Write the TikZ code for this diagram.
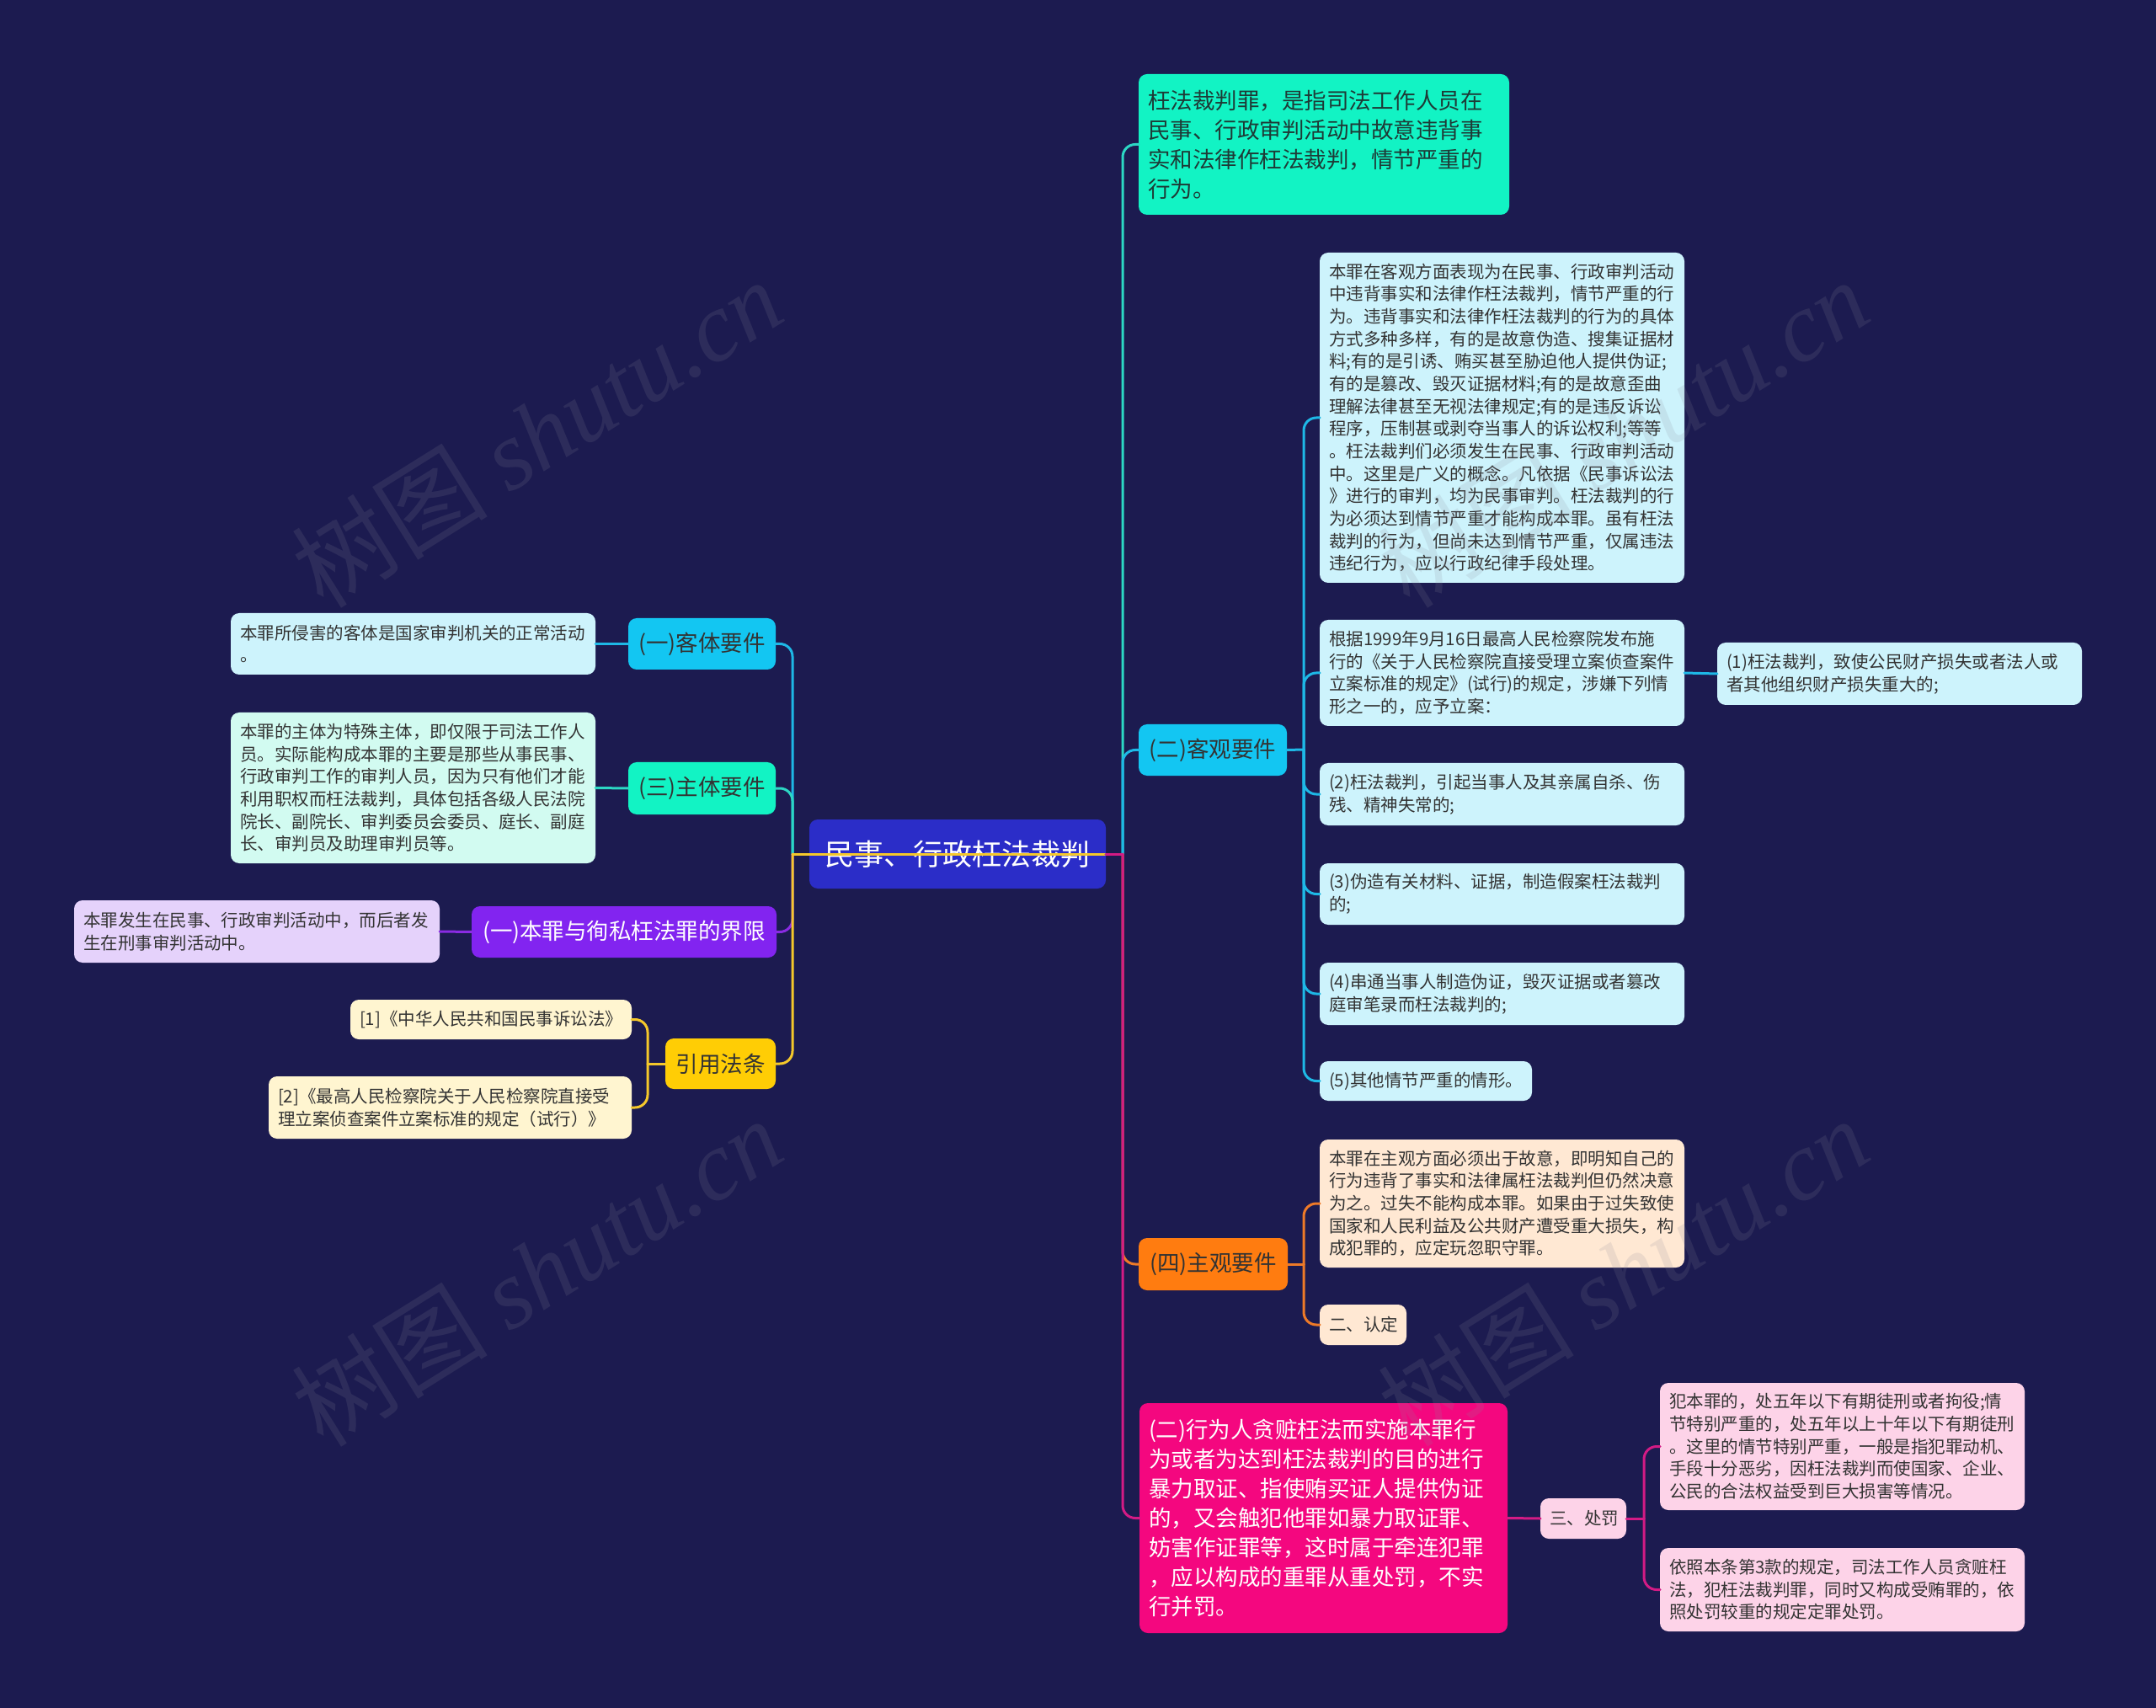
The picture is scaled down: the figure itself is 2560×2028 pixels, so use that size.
\documentclass[tikz,border=0pt]{standalone}
\usepackage{fontspec}
\setmainfont{Noto Sans CJK SC}
\newfontfamily\wmfont{Liberation Serif}
\definecolor{bg}{HTML}{1C1B50}
\definecolor{rootc}{HTML}{2B2DC8}
\definecolor{tealc}{HTML}{12F3C4}
\definecolor{cyanc}{HTML}{13C6F2}
\definecolor{purc}{HTML}{8224F0}
\definecolor{yelc}{HTML}{FFCD05}
\definecolor{orac}{HTML}{FF7C10}
\definecolor{pinc}{HTML}{F4077F}
\definecolor{lcyan}{HTML}{CDF3FC}
\definecolor{lteal}{HTML}{D2FBF1}
\definecolor{lpur}{HTML}{E5D2FB}
\definecolor{lyel}{HTML}{FFF5D0}
\definecolor{lora}{HTML}{FFE8D3}
\definecolor{lpin}{HTML}{FDD3E8}
\definecolor{lcy}{HTML}{1EB8E6}
\definecolor{lte}{HTML}{2CD7C4}
\definecolor{lpu}{HTML}{8A2BE2}
\definecolor{lye}{HTML}{F5C82B}
\definecolor{lor}{HTML}{EE7A28}
\definecolor{lpi}{HTML}{D31B85}
\definecolor{tdark}{HTML}{333333}
\definecolor{tgreen}{HTML}{1E3A36}
\definecolor{wmc}{HTML}{8A8A9A}
\newcommand{\fsm}{\fontsize{6.15pt}{8pt}\selectfont}
\newcommand{\fbg}{\fontsize{7.95pt}{10.5pt}\selectfont}
\newcommand{\bx}[7]{%
  \pgfmathsetmacro\bxw{(#4-#2)*0.3}%
  \pgfmathsetmacro\bxh{(#5-#3)*0.3}%
  \pgfmathsetmacro\bxt{(#4-#2-22)*0.3}%
  \node[#6, minimum width=\bxw pt, minimum height=\bxh pt] (#1) at ({(#2+#4)/2},{(#3+#5)/2}) {#7};}
\tikzset{
  base/.style={rounded corners=3pt, inner sep=0pt, outer sep=0pt},
  smalltxt/.style={base, text width=\bxt pt, align=left, font=\fsm, text=tdark},
  bigtxt/.style={base, text width=\bxt pt, align=left, font=\fbg},
  lab/.style={base, align=center, font=\fbg},
  conn/.style={line width=0.9pt, line cap=round},
  rconn/.style={line width=0.9pt, line cap=round, rounded corners=4.5pt},
  wm/.style={text=wmc, text opacity=0.16, rotate=32, font=\fontsize{35pt}{40pt}\selectfont}
}
\begin{document}
\begin{tikzpicture}[x=0.3pt, y=-0.3pt]
\fill[bg] (0,0) rectangle (2560,2028);
\useasboundingbox (0,0) rectangle (2560,2028);

% root
\bx{root}{961}{973}{1313}{1055}{base, fill=rootc, text=white, font=\fontsize{10.5pt}{12pt}\selectfont}{民事、行政枉法裁判}

% right side
\bx{T0}{1352}{88}{1792}{255}{bigtxt, fill=tealc, text=tgreen}{枉法裁判罪，是指司法工作人员在\\民事、行政审判活动中故意违背事\\实和法律作枉法裁判，情节严重的\\行为。}
\bx{K}{1352}{860}{1528}{921}{lab, fill=cyanc, text=tdark}{(二)客观要件}
\bx{K1}{1567}{300}{2000}{692}{smalltxt, fill=lcyan}{本罪在客观方面表现为在民事、行政审判活动\\中违背事实和法律作枉法裁判，情节严重的行\\为。违背事实和法律作枉法裁判的行为的具体\\方式多种多样，有的是故意伪造、搜集证据材\\料;有的是引诱、贿买甚至胁迫他人提供伪证;\\有的是篡改、毁灭证据材料;有的是故意歪曲\\理解法律甚至无视法律规定;有的是违反诉讼\\程序，压制甚或剥夺当事人的诉讼权利;等等\\。枉法裁判们必须发生在民事、行政审判活动\\中。这里是广义的概念。凡依据《民事诉讼法\\》进行的审判，均为民事审判。枉法裁判的行\\为必须达到情节严重才能构成本罪。虽有枉法\\裁判的行为，但尚未达到情节严重，仅属违法\\违纪行为，应以行政纪律手段处理。}
\bx{K2}{1567}{736}{2000}{862}{smalltxt, fill=lcyan}{根据1999年9月16日最高人民检察院发布施\\行的《关于人民检察院直接受理立案侦查案件\\立案标准的规定》(试行)的规定，涉嫌下列情\\形之一的，应予立案：}
\bx{K2a}{2039}{763}{2472}{837}{smalltxt, fill=lcyan}{(1)枉法裁判，致使公民财产损失或者法人或\\者其他组织财产损失重大的;}
\bx{K3}{1567}{906}{2000}{980}{smalltxt, fill=lcyan}{(2)枉法裁判，引起当事人及其亲属自杀、伤\\残、精神失常的;}
\bx{K4}{1567}{1025}{2000}{1098}{smalltxt, fill=lcyan}{(3)伪造有关材料、证据，制造假案枉法裁判\\的;}
\bx{K5}{1567}{1143}{2000}{1217}{smalltxt, fill=lcyan}{(4)串通当事人制造伪证，毁灭证据或者篡改\\庭审笔录而枉法裁判的;}
\bx{K6}{1567}{1260}{1819}{1307}{smalltxt, fill=lcyan}{(5)其他情节严重的情形。}

\bx{S}{1352}{1470}{1529}{1532}{lab, fill=orac, text=tdark}{(四)主观要件}
\bx{S1}{1567}{1353}{2000}{1505}{smalltxt, fill=lora}{本罪在主观方面必须出于故意，即明知自己的\\行为违背了事实和法律属枉法裁判但仍然决意\\为之。过失不能构成本罪。如果由于过失致使\\国家和人民利益及公共财产遭受重大损失，构\\成犯罪的，应定玩忽职守罪。}
\bx{S2}{1567}{1549}{1670}{1597}{smalltxt, fill=lora}{二、认定}

\bx{P}{1353}{1666}{1790}{1939}{bigtxt, fill=pinc, text=white}{(二)行为人贪赃枉法而实施本罪行\\为或者为达到枉法裁判的目的进行\\暴力取证、指使贿买证人提供伪证\\的，又会触犯他罪如暴力取证罪、\\妨害作证罪等，这时属于牵连犯罪\\，应以构成的重罪从重处罚，不实\\行并罚。}
\bx{P1}{1829}{1779}{1931}{1827}{smalltxt, fill=lpin}{三、处罚}
\bx{P2}{1971}{1642}{2404}{1793}{smalltxt, fill=lpin}{犯本罪的，处五年以下有期徒刑或者拘役;情\\节特别严重的，处五年以上十年以下有期徒刑\\。这里的情节特别严重，一般是指犯罪动机、\\手段十分恶劣，因枉法裁判而使国家、企业、\\公民的合法权益受到巨大损害等情况。}
\bx{P3}{1971}{1838}{2404}{1937}{smalltxt, fill=lpin}{依照本条第3款的规定，司法工作人员贪赃枉\\法，犯枉法裁判罪，同时又构成受贿罪的，依\\照处罚较重的规定定罪处罚。}

% left side
\bx{L1}{746}{734}{921}{795}{lab, fill=cyanc, text=tdark}{(一)客体要件}
\bx{L1a}{274}{728}{707}{801}{smalltxt, fill=lcyan}{本罪所侵害的客体是国家审判机关的正常活动\\。}
\bx{L2}{746}{905}{921}{967}{lab, fill=tealc, text=tdark}{(三)主体要件}
\bx{L2a}{274}{846}{707}{1025}{smalltxt, fill=lteal}{本罪的主体为特殊主体，即仅限于司法工作人\\员。实际能构成本罪的主要是那些从事民事、\\行政审判工作的审判人员，因为只有他们才能\\利用职权而枉法裁判，具体包括各级人民法院\\院长、副院长、审判委员会委员、庭长、副庭\\长、审判员及助理审判员等。}
\bx{L3}{560}{1076}{922}{1137}{lab, fill=purc, text=white}{(一)本罪与徇私枉法罪的界限}
\bx{L3a}{88}{1069}{522}{1143}{smalltxt, fill=lpur}{本罪发生在民事、行政审判活动中，而后者发\\生在刑事审判活动中。}
\bx{L4}{790}{1233}{921}{1293}{lab, fill=yelc, text=tdark}{引用法条}
\bx{L4a}{416}{1187}{750}{1234}{smalltxt, fill=lyel}{[1]《中华人民共和国民事诉讼法》}
\bx{L4b}{319}{1278}{750}{1352}{smalltxt, fill=lyel}{[2]《最高人民检察院关于人民检察院直接受\\理立案侦查案件立案标准的规定（试行）》}

% trunk coordinates
\coordinate (LT) at (941,1014);
\coordinate (RT) at (1333,1014);
\coordinate (KT) at (1548,890);
\coordinate (ST) at (1548,1501);
\coordinate (PT) at (1952,1803);
\coordinate (YT) at (769,1263);

% left connectors
\draw[conn, lcy] (root.east) -- (LT);
\draw[rconn, lcy] (LT) -- (LT |- L1) -- (L1.east);
\draw[conn, lte] (root.east) -- (LT);
\draw[rconn, lte] (LT) -- (LT |- L2) -- (L2.east);
\draw[conn, lpu] (root.east) -- (LT);
\draw[rconn, lpu] (LT) -- (LT |- L3) -- (L3.east);
\draw[conn, lye] (root.east) -- (LT);
\draw[rconn, lye] (LT) -- (LT |- L4) -- (L4.east);

\draw[conn, lcy] (L1.west) -- (L1a.east);
\draw[conn, lte] (L2.west) -- (L2a.east);
\draw[conn, lpu] (L3.west) -- (L3a.east);
\draw[conn, lye] (L4.west) -- (YT);
\draw[rconn, lye] (YT) -- (YT |- L4a) -- (L4a.east);
\draw[rconn, lye] (YT) -- (YT |- L4b) -- (L4b.east);

% right connectors
\draw[conn, lte] (root.east) -- (RT);
\draw[rconn, lte] (RT) -- (RT |- T0) -- (T0.west);
\draw[conn, lcy] (root.east) -- (RT);
\draw[rconn, lcy] (RT) -- (RT |- K) -- (K.west);
\draw[conn, lor] (root.east) -- (RT);
\draw[rconn, lor] (RT) -- (RT |- S) -- (S.west);
\draw[conn, lpi] (root.east) -- (RT);
\draw[rconn, lpi] (RT) -- (RT |- P) -- (P.west);

\draw[conn, lcy] (K.east) -- (KT);
\draw[rconn, lcy] (KT) -- (KT |- K1) -- (K1.west);
\draw[rconn, lcy] (KT) -- (KT |- K2) -- (K2.west);
\draw[rconn, lcy] (KT) -- (KT |- K3) -- (K3.west);
\draw[rconn, lcy] (KT) -- (KT |- K4) -- (K4.west);
\draw[rconn, lcy] (KT) -- (KT |- K5) -- (K5.west);
\draw[rconn, lcy] (KT) -- (KT |- K6) -- (K6.west);
\draw[conn, lcy] (K2.east) -- (K2a.west);

\draw[conn, lor] (S.east) -- (ST);
\draw[rconn, lor] (ST) -- (ST |- S1) -- (S1.west);
\draw[rconn, lor] (ST) -- (ST |- S2) -- (S2.west);

\draw[conn, lpi] (P.east) -- (P1.west);
\draw[conn, lpi] (P1.east) -- (PT);
\draw[rconn, lpi] (PT) -- (PT |- P2) -- (P2.west);
\draw[rconn, lpi] (PT) -- (PT |- P3) -- (P3.west);

% watermarks (on top, faint)
\node[wm] (w1) at (637,514) {树图 {\wmfont\itshape shutu.cn}};
\node[wm] (w2) at (1927,514) {树图 {\wmfont\itshape shutu.cn}};
\node[wm] (w3) at (637,1510) {树图 {\wmfont\itshape shutu.cn}};
\node[wm] (w4) at (1927,1510) {树图 {\wmfont\itshape shutu.cn}};
\end{tikzpicture}
\end{document}
